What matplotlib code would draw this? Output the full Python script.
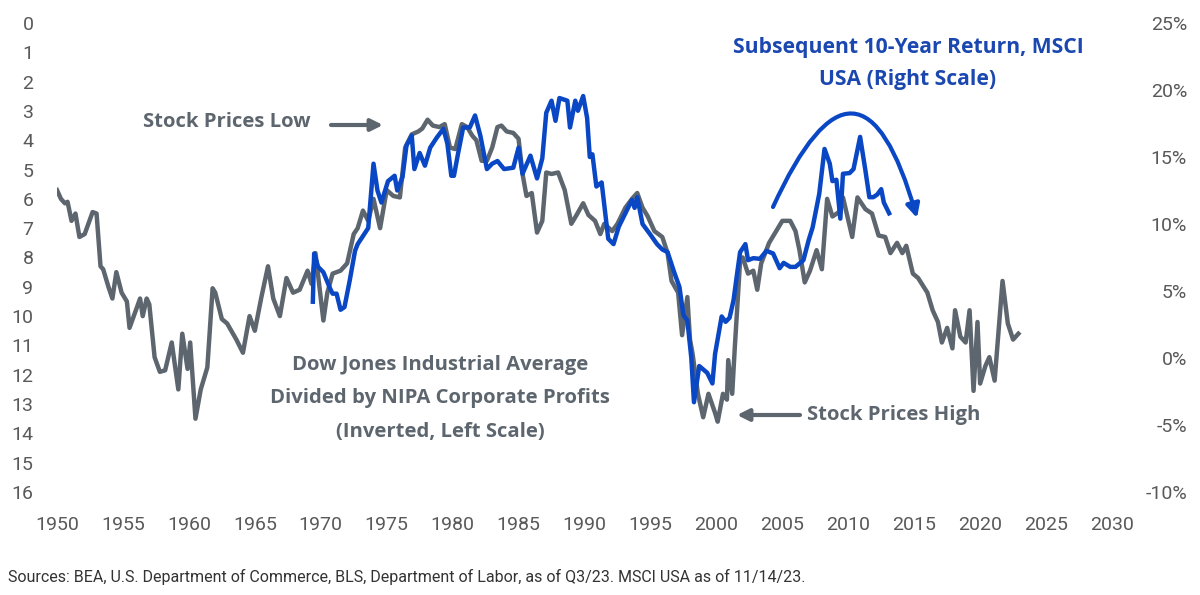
import matplotlib
matplotlib.use("Agg")
import matplotlib.pyplot as plt
import numpy as np

# ---------------- data ----------------
dj_years = [1950.0, 1950.3, 1950.6, 1950.8, 1951.1, 1951.4, 1951.7, 1952.1, 1952.7, 1953.0,
            1953.3, 1953.5, 1953.9, 1954.2, 1954.5, 1954.9, 1955.3, 1955.5, 1955.9, 1956.3,
            1956.5, 1956.8, 1957.0, 1957.4, 1957.8, 1958.2, 1958.7, 1959.2, 1959.5, 1959.9,
            1960.1, 1960.5, 1960.9, 1961.4, 1961.8, 1962.0, 1962.5, 1962.9, 1963.6, 1964.1,
            1964.6, 1965.0, 1965.5, 1966.0, 1966.4, 1966.9, 1967.4, 1967.9, 1968.4, 1969.0,
            1969.3, 1969.6, 1970.2, 1970.5, 1970.9, 1971.5, 1972.0, 1972.5, 1972.8, 1973.2,
            1973.6, 1974.0, 1974.5, 1975.0, 1975.5, 1976.0, 1976.4, 1976.9, 1977.4, 1977.7,
            1978.1, 1978.5, 1979.0, 1979.4, 1979.8, 1980.2, 1980.7, 1981.1, 1981.5, 1981.8,
            1982.2, 1982.6, 1983.0, 1983.4, 1983.7, 1984.1, 1984.6, 1985.0, 1985.3, 1985.6,
            1986.0, 1986.4, 1986.8, 1987.1, 1987.5, 1988.0, 1988.5, 1989.0, 1989.4, 1989.9,
            1990.3, 1990.8, 1991.2, 1991.5, 1992.1, 1992.5, 1993.1, 1993.6, 1994.0, 1994.4,
            1994.8, 1995.3, 1995.9, 1996.3, 1996.6, 1997.1, 1997.4, 1997.8, 1998.0, 1998.2,
            1998.6, 1999.0, 1999.4, 1999.9, 2000.1, 2000.5, 2000.8, 2000.9, 2001.2, 2001.4,
            2001.8, 2002.0, 2002.4, 2002.8, 2003.1, 2003.4, 2004.0, 2004.6, 2005.0, 2005.6,
            2006.0, 2006.3, 2006.7, 2007.1, 2007.6, 2008.0, 2008.4, 2008.8, 2009.3, 2009.6,
            2010.3, 2010.7, 2011.3, 2011.8, 2012.3, 2012.8, 2013.2, 2013.7, 2014.1, 2014.4,
            2014.9, 2015.3, 2016.0, 2016.4, 2016.8, 2017.1, 2017.5, 2017.9, 2018.1, 2018.5,
            2018.9, 2019.2, 2019.5, 2019.8, 2020.0, 2020.4, 2020.7, 2021.1, 2021.7, 2022.1,
            2022.5, 2022.9]
dj_ratio = [5.7, 6.0, 6.15, 6.1, 6.75, 6.5, 7.3, 7.2, 6.45, 6.5,
            8.3, 8.4, 9.0, 9.4, 8.5, 9.2, 9.5, 10.4, 9.9, 9.4,
            10.0, 9.4, 9.6, 11.4, 11.9, 11.85, 10.9, 12.5, 10.6, 11.8,
            10.9, 13.5, 12.5, 11.75, 9.05, 9.2, 10.1, 10.25, 10.8, 11.25,
            10.0, 10.5, 9.35, 8.3, 9.4, 10.0, 8.7, 9.2, 9.1, 8.45,
            8.9, 7.85, 10.15, 9.2, 8.55, 8.45, 8.2, 7.2, 7.0, 6.4,
            6.75, 6.0, 7.0, 5.7, 5.9, 5.95, 4.25, 3.8, 3.7, 3.6,
            3.3, 3.5, 3.55, 3.45, 4.25, 4.3, 3.45, 3.55, 3.85, 4.0,
            4.7, 4.7, 4.25, 3.55, 3.5, 3.7, 3.75, 3.95, 5.15, 5.9,
            5.8, 7.15, 6.75, 5.1, 5.15, 5.1, 5.7, 6.85, 6.55, 6.15,
            6.55, 6.75, 7.2, 6.85, 7.1, 6.85, 6.3, 6.0, 5.8, 6.3,
            6.6, 7.1, 7.3, 7.85, 8.8, 9.2, 10.65, 9.35, 10.8, 11.3,
            12.65, 13.45, 12.65, 13.3, 13.6, 12.65, 12.85, 11.5, 12.65, 11.05,
            8.1, 8.0, 8.55, 8.45, 9.1, 8.2, 7.5, 7.05, 6.75, 6.75,
            7.1, 7.75, 8.85, 8.45, 7.75, 8.4, 6.0, 6.6, 6.45, 5.95,
            7.3, 5.95, 6.35, 6.5, 7.25, 7.3, 7.85, 7.5, 7.85, 7.6,
            8.55, 8.7, 9.2, 9.8, 10.2, 10.9, 10.4, 11.1, 9.8, 10.7,
            10.9, 9.8, 12.55, 10.2, 12.3, 11.7, 11.4, 12.2, 8.8, 10.25,
            10.8, 10.6]

msci_years = [1969.4, 1969.5, 1969.8, 1970.2, 1970.7, 1970.9, 1971.2, 1971.5, 1971.8, 1972.2,
              1972.6, 1972.8, 1973.2, 1973.6, 1974.0, 1974.3, 1974.6, 1975.1, 1975.6, 1975.8,
              1976.2, 1976.5, 1976.9, 1977.1, 1977.5, 1977.9, 1978.3, 1978.8, 1979.3, 1979.6,
              1979.9, 1980.1, 1980.4, 1980.8, 1981.3, 1981.7, 1982.1, 1982.6, 1983.0, 1983.4,
              1983.9, 1984.6, 1985.0, 1985.3, 1985.9, 1986.4, 1986.8, 1987.1, 1987.5, 1987.8,
              1988.1, 1988.7, 1988.9, 1989.3, 1989.5, 1989.9, 1990.2, 1990.4, 1990.6, 1990.9,
              1991.3, 1991.8, 1992.2, 1992.6, 1993.1, 1993.6, 1993.8, 1994.0, 1994.4, 1995.0,
              1995.5, 1995.9, 1996.3, 1996.8, 1997.2, 1997.5, 1997.8, 1998.1, 1998.3, 1998.7,
              1999.3, 1999.7, 1999.9, 2000.4, 2000.7, 2001.0, 2001.3, 2001.6, 2001.8, 2002.2,
              2002.4, 2002.8, 2003.3, 2003.8, 2004.3, 2004.8, 2005.1, 2005.6, 2006.0, 2006.6,
              2007.0, 2007.3, 2007.8, 2008.2, 2008.6, 2008.8, 2009.1, 2009.4, 2009.6, 2010.1,
              2010.4, 2010.9, 2011.3, 2011.6, 2011.9, 2012.2, 2012.5, 2012.7, 2013.1]
msci_return = [4.2, 7.8, 6.8, 6.4, 5.2, 4.8, 4.8, 3.6, 3.8, 5.8,
               8.0, 8.5, 9.1, 9.7, 14.5, 12.5, 11.6, 13.2, 13.6, 12.5,
               13.5, 15.85, 16.6, 14.1, 15.3, 14.35, 15.7, 16.45, 17.1, 16.0,
               13.6, 13.6, 15.2, 17.2, 17.2, 18.1, 16.6, 14.1, 14.5, 14.7,
               14.1, 14.2, 15.7, 13.75, 15.1, 13.4, 14.9, 18.3, 19.2, 17.7,
               19.4, 19.2, 17.2, 19.2, 18.45, 19.55, 17.9, 15.0, 15.2, 12.8,
               13.1, 8.9, 8.5, 9.8, 10.8, 11.8, 11.2, 12.0, 10.0, 9.2,
               8.5, 8.1, 7.9, 6.4, 5.3, 3.2, 2.8, 0.0, -3.3, -0.6,
               -1.1, -1.9, 0.3, 3.1, 2.7, 3.0, 4.3, 6.5, 7.9, 8.5,
               7.3, 7.45, 7.4, 8.0, 7.8, 6.7, 7.1, 6.8, 6.8, 7.3,
               8.8, 9.75, 12.25, 15.6, 14.5, 13.2, 13.3, 10.4, 13.75, 13.8,
               14.1, 16.5, 14.0, 12.0, 12.0, 12.2, 12.6, 11.6, 10.8]

x_ticks = list(range(1950, 2031, 5))
left_ticks = list(range(0, 17))
right_ticks = list(range(-10, 26, 5))

title_lines = ["Subsequent 10-Year Return, MSCI", "USA (Right Scale)"]
dj_lines = ["Dow Jones Industrial Average", "Divided by NIPA Corporate Profits",
            "(Inverted, Left Scale)"]
source_text = ("Sources: BEA, U.S. Department of Commerce, BLS, Department of Labor, "
               "as of Q3/23. MSCI USA as of 11/14/23.")

# ---------------- style ----------------
GRAY = "#5d666e"
BLUE = "#0a47c4"
BLUE_TXT = "#1a47b0"
TICK = "#595959"
TICK_FONT = ["Roboto", "DejaVu Sans"]
BOLD_FONT = ["Open Sans", "Lato", "DejaVu Sans"]

W, H = 1200, 595
fig = plt.figure(figsize=(W / 100, H / 100), dpi=100)
L, R, T, B = 57, 1112, 23, 492
ax = fig.add_axes([L / W, 1 - B / H, (R - L) / W, (B - T) / H])
ax2 = ax.twinx()

ax.plot(dj_years, dj_ratio, color=GRAY, lw=3.2, solid_joinstyle="round", zorder=2)
ax2.plot(msci_years, msci_return, color=BLUE, lw=3.2, solid_joinstyle="round", zorder=3)

ax.set_xlim(1950, 2030)
ax.set_ylim(16, 0)
ax2.set_ylim(-10, 25)

ax.set_xticks(x_ticks)
ax.set_xticklabels([str(t) for t in x_ticks])
ax.set_yticks(left_ticks)
ax.set_yticklabels([str(t) for t in left_ticks])
ax2.set_yticks(right_ticks)
ax2.set_yticklabels([f"{t}%" for t in right_ticks])

for a in (ax, ax2):
    for s in a.spines.values():
        s.set_visible(False)
    a.tick_params(length=0, colors=TICK, labelsize=14)
    for lab in a.get_xticklabels() + a.get_yticklabels():
        lab.set_family(TICK_FONT)

ax.tick_params(axis="x", pad=17)
ax.tick_params(axis="y", pad=17)
ax2.tick_params(axis="y", pad=54)
for lab in ax2.get_yticklabels():
    lab.set_horizontalalignment("right")

# ---------------- annotations ----------------
def yr(px):
    return 1950 + (px - L) / ((R - L) / 80)

def lv(py):
    return (py - T) / ((B - T) / 16)

def rv(py):
    return 25 - (py - T) / ((B - T) / 35)

TXT = 14.6
ax.text(yr(143), lv(122), "Stock Prices Low", color=GRAY, fontsize=TXT,
        fontweight="bold", family=BOLD_FONT, ha="left", va="center")
ax.annotate("", xy=(yr(383), lv(125)), xytext=(yr(331), lv(125)),
            arrowprops=dict(arrowstyle="-|>,head_length=0.7,head_width=0.35",
                            color=GRAY, lw=3, shrinkA=0, shrinkB=0))

ax.text(yr(807), lv(415), "Stock Prices High", color=GRAY, fontsize=TXT,
        fontweight="bold", family=BOLD_FONT, ha="left", va="center")
ax.annotate("", xy=(yr(737), lv(415)), xytext=(yr(800), lv(415)),
            arrowprops=dict(arrowstyle="-|>,head_length=0.7,head_width=0.35",
                            color=GRAY, lw=3, shrinkA=0, shrinkB=0))

for i, line in enumerate(dj_lines):
    ax.text(yr(440), lv(365 + i * 33.5), line, color=GRAY, fontsize=TXT,
            fontweight="bold", family=BOLD_FONT, ha="center", va="center")

for i, line in enumerate(title_lines):
    ax.text(yr(908), lv(47 + i * 33), line, color=BLUE_TXT, fontsize=TXT + 0.6,
            fontweight="bold", family=BOLD_FONT, ha="center", va="center")

ax2.annotate("", xy=(yr(917), rv(218)), xytext=(yr(773), rv(207)),
             arrowprops=dict(arrowstyle="-|>,head_length=0.8,head_width=0.4",
                             connectionstyle="arc3,rad=-1.36",
                             color=BLUE, lw=3, shrinkA=0, shrinkB=0),
             annotation_clip=False)

fig.text(8 / W, 1 - 577 / H, source_text, color="#333333", fontsize=11.5,
         family=["Roboto", "DejaVu Sans"], ha="left", va="center")

fig.savefig("out.png", dpi=100)
